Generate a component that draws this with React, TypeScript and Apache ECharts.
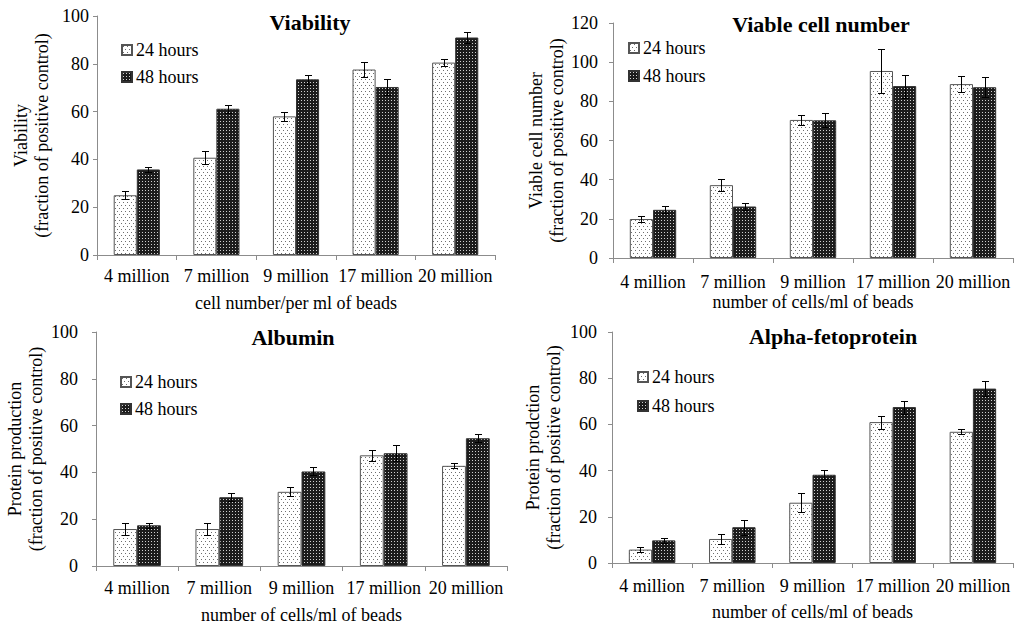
import React, { useEffect, useRef } from "react";
import * as echarts from "echarts";

// ---------- data ----------
const categories = ["4 million", "7 million", "9 million", "17 million", "20 million"];
const seriesNames = ["24 hours", "48 hours"];

const viability24 = [25, 40.7, 58, 77.6, 80.5];
const viability24Err = [1.7, 2.8, 2.0, 3.0, 1.3];
const viability48 = [35.8, 61.2, 73.5, 70.3, 91];
const viability48Err = [1.2, 1.6, 2.0, 3.3, 2.4];

const viable24 = [19.9, 37.2, 70.5, 95.5, 88.8];
const viable24Err = [1.7, 3.2, 2.5, 11, 3.9];
const viable48 = [24.6, 26.3, 70.3, 87.8, 87.2];
const viable48Err = [1.7, 1.7, 3.6, 5.9, 5.0];

const albumin24 = [15.8, 15.8, 31.7, 47.3, 42.8];
const albumin24Err = [2.4, 2.4, 1.9, 2.4, 1.1];
const albumin48 = [17.4, 29.4, 40.4, 48.2, 54.6];
const albumin48Err = [1.1, 1.6, 1.7, 3.4, 1.8];

const afp24 = [5.8, 10.4, 26.1, 61, 56.8];
const afp24Err = [1.1, 2.3, 4.2, 2.8, 1.1];
const afp48 = [9.8, 15.5, 38.2, 67.5, 75.5];
const afp48Err = [1.0, 3.2, 1.9, 2.8, 3.3];

const FONT = "'Liberation Serif', 'Times New Roman', serif";
const BAR_FRAC = 0.29;

const panels = [
  {
    title: "Viability",
    yName: "Viability\n(fraction of positive control)",
    xName: "cell number/per ml of beads",
    max: 100,
    d24: viability24, e24: viability24Err, d48: viability48, e48: viability48Err,
    grid: { left: 97, top: 16, width: 398, height: 239 },
    titleX: 310, titleY: 11,
    legendX: 121, legendY: 41, legendGap: 9,
    yLabelMargin: 8, yNameGap: 45, xLabelMargin: 12, xNameGap: 39,
  },
  {
    title: "Viable cell number",
    yName: "Viable cell number\n(fraction of positive control)",
    xName: "number of cells/ml of beads",
    max: 120,
    d24: viable24, e24: viable24Err, d48: viable48, e48: viable48Err,
    grid: { left: 613, top: 23, width: 400, height: 235 },
    titleX: 821, titleY: 13,
    legendX: 628, legendY: 39, legendGap: 10,
    yLabelMargin: 15, yNameGap: 44, xLabelMargin: 15, xNameGap: 35,
  },
  {
    title: "Albumin",
    yName: "Protein production\n(fraction of positive control)",
    xName: "number of cells/ml of beads",
    max: 100,
    d24: albumin24, e24: albumin24Err, d48: albumin48, e48: albumin48Err,
    grid: { left: 96, top: 332, width: 411, height: 234 },
    titleX: 293, titleY: 326,
    legendX: 120, legendY: 373, legendGap: 9,
    yLabelMargin: 18, yNameGap: 50, xLabelMargin: 13, xNameGap: 40,
  },
  {
    title: "Alpha-fetoprotein",
    yName: "Protein prodction\n(fraction of positive control)",
    xName: "number of cells/ml of beads",
    max: 100,
    d24: afp24, e24: afp24Err, d48: afp48, e48: afp48Err,
    grid: { left: 612, top: 332, width: 401, height: 231 },
    titleX: 833, titleY: 325,
    legendX: 637, legendY: 368, legendGap: 11,
    yLabelMargin: 15, yNameGap: 48, xLabelMargin: 14, xNameGap: 40,
  },
];

function makePattern(kind: "light" | "dark") {
  const c = document.createElement("canvas");
  if (kind === "light") {
    c.width = 8;
    c.height = 6;
    const g = c.getContext("2d")!;
    g.fillStyle = "#ffffff";
    g.fillRect(0, 0, 8, 6);
    g.fillStyle = "#6e6e6e";
    [[1, 1], [5, 1], [3, 4], [7, 4]].forEach(([x, y]) => g.fillRect(x, y, 1, 1));
  } else {
    c.width = 3;
    c.height = 3;
    const g = c.getContext("2d")!;
    g.fillStyle = "#1c1c1c";
    g.fillRect(0, 0, 3, 3);
    g.fillStyle = "#d0d0d0";
    g.fillRect(1, 1, 1, 1);
  }
  return { image: c, repeat: "repeat", imageWidth: c.width, imageHeight: c.height } as any;
}

function errorSeries(idx: number, values: number[], errs: number[], sign: number) {
  return {
    type: "custom",
    name: "err",
    xAxisIndex: idx,
    yAxisIndex: idx,
    silent: true,
    z: 10,
    data: values.map((v, j) => [j, v, errs[j]]),
    renderItem: (params: any, api: any) => {
      const ci = api.value(0);
      const v = api.value(1);
      const e = api.value(2);
      const band = api.size([1, 0])[0];
      const xc = Math.round(api.coord([ci, v])[0] + (sign * band * BAR_FRAC) / 2) + 0.5;
      const top = Math.round(api.coord([ci, v + e])[1]) + 0.5;
      const bot = Math.round(api.coord([ci, v - e])[1]) + 0.5;
      const cap = 3.5;
      const st = { stroke: "#000", lineWidth: 1 };
      return {
        type: "group",
        children: [
          { type: "line", shape: { x1: xc, y1: top, x2: xc, y2: bot }, style: st },
          { type: "line", shape: { x1: xc - cap, y1: top, x2: xc + cap, y2: top }, style: st },
          { type: "line", shape: { x1: xc - cap, y1: bot, x2: xc + cap, y2: bot }, style: st },
        ],
      };
    },
  };
}

export default function App() {
  const ref = useRef<HTMLDivElement>(null);

  useEffect(() => {
    if (!ref.current) return;
    const chart = echarts.init(ref.current, null, { renderer: "svg" });
    const light = makePattern("light");
    const dark = makePattern("dark");
    const axisColor = "#8c8c8c";
    const txt = { fontFamily: FONT, fontSize: 18, color: "#000" };

    const series: any[] = [];
    panels.forEach((p, i) => {
      series.push({
        type: "bar",
        name: seriesNames[0],
        xAxisIndex: i,
        yAxisIndex: i,
        data: p.d24,
        barWidth: BAR_FRAC * 100 + "%",
        barGap: "0%",
        itemStyle: { color: light, borderColor: "#555", borderWidth: 1 },
      });
      series.push({
        type: "bar",
        name: seriesNames[1],
        xAxisIndex: i,
        yAxisIndex: i,
        data: p.d48,
        barWidth: BAR_FRAC * 100 + "%",
        barGap: "0%",
        itemStyle: { color: dark, borderColor: "#333", borderWidth: 1 },
      });
      series.push(errorSeries(i, p.d24, p.e24, -1));
      series.push(errorSeries(i, p.d48, p.e48, 1));
    });

    chart.setOption({
      animation: false,
      backgroundColor: "#fff",
      title: panels.map((p) => ({
        text: p.title,
        left: p.titleX,
        top: p.titleY,
        textAlign: "center",
        padding: 0,
        textStyle: { fontFamily: FONT, fontSize: 22, fontWeight: "bold", color: "#000" },
      })),
      legend: panels.map((p) => ({
        data: seriesNames,
        orient: "vertical",
        left: p.legendX,
        top: p.legendY,
        padding: 0,
        itemWidth: 10,
        itemHeight: 10,
        itemGap: p.legendGap,
        icon: "rect",
        selectedMode: false,
        textStyle: { ...txt, padding: [0, 0, 0, -1] },
      })),
      grid: panels.map((p) => ({ ...p.grid })),
      xAxis: panels.map((p, i) => ({
        type: "category",
        gridIndex: i,
        data: categories,
        name: p.xName,
        nameLocation: "middle",
        nameGap: p.xNameGap,
        nameTextStyle: txt,
        axisLine: { show: true, lineStyle: { color: axisColor } },
        axisTick: { show: true, length: 5, lineStyle: { color: axisColor } },
        axisLabel: { ...txt, margin: p.xLabelMargin, interval: 0 },
        splitLine: { show: false },
      })),
      yAxis: panels.map((p, i) => ({
        type: "value",
        gridIndex: i,
        min: 0,
        max: p.max,
        interval: 20,
        name: p.yName,
        nameLocation: "middle",
        nameGap: p.yNameGap,
        nameTextStyle: { ...txt, lineHeight: 21 },
        axisLine: { show: true, lineStyle: { color: axisColor } },
        axisTick: { show: true, length: 4, lineStyle: { color: axisColor } },
        axisLabel: { ...txt, margin: p.yLabelMargin },
        splitLine: { show: false },
      })),
      series,
    });

    return () => chart.dispose();
  }, []);

  return (
    <div
      ref={ref}
      style={{ position: "fixed", left: 0, top: 0, width: 1014, height: 625, background: "#fff" }}
    />
  );
}
